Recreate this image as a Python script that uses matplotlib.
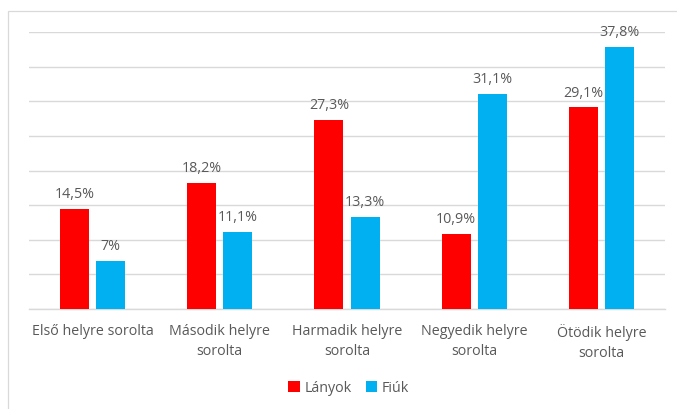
import matplotlib
matplotlib.use("Agg")
import matplotlib.pyplot as plt
from matplotlib.patches import Rectangle
import numpy as np

categories = ["Első helyre sorolta", "Második helyre\nsorolta", "Harmadik helyre\nsorolta",
              "Negyedik helyre\nsorolta", "Ötödik helyre\nsorolta"]
lanyok = [14.5, 18.2, 27.3, 10.9, 29.1]
fiuk = [7.0, 11.1, 13.3, 31.1, 37.8]
lanyok_labels = ["14,5%", "18,2%", "27,3%", "10,9%", "29,1%"]
fiuk_labels = ["7%", "11,1%", "13,3%", "31,1%", "37,8%"]
series_names = ["Lányok", "Fiúk"]

plt.rcParams['font.family'] = ['Open Sans', 'DejaVu Sans']
txt = '#595959'
grid = '#D9D9D9'
fs = 10.3

fig = plt.figure(figsize=(6.77, 4.09), dpi=100)
fig.patches.append(Rectangle((8/677, -0.1), 2, 1 - 11/409 + 0.1, transform=fig.transFigure,
                             fill=False, edgecolor='#D9D9D9', linewidth=0.9))
ax = fig.add_axes([29/677, 1 - 309/409, 636/677, 277/409])

x = np.arange(len(categories))
w = 0.228
off = 0.142
b1 = ax.bar(x - off, lanyok, w, color='#FF0000', label=series_names[0], zorder=3)
b2 = ax.bar(x + off, fiuk, w, color='#00B0F0', label=series_names[1], zorder=3)

for bars, labs in ((b1, lanyok_labels), (b2, fiuk_labels)):
    for r, l in zip(bars, labs):
        ax.annotate(l, (r.get_x() + r.get_width() / 2, r.get_height()),
                    xytext=(0, 5), textcoords='offset points', ha='center', va='bottom',
                    fontsize=fs, color=txt)

ax.set_xlim(-0.5, 4.5)
ax.set_ylim(0, 40)
ax.set_yticks(np.arange(0, 41, 5))
ax.set_yticklabels([])
ax.tick_params(axis='y', length=0)
ax.tick_params(axis='x', length=0, pad=11)
ax.set_xticks(x)
ax.set_xticklabels(categories, fontsize=fs, color=txt, linespacing=1.45)
ax.grid(axis='y', color=grid, linewidth=1, zorder=0)
for s in ['top', 'right', 'left']:
    ax.spines[s].set_visible(False)
ax.spines['bottom'].set_color(grid)
ax.spines['bottom'].set_linewidth(1)

leg = fig.legend(handles=[b1, b2], labels=series_names, loc='center', bbox_to_anchor=(0.515, 1 - 388/409),
                 ncol=2, frameon=False, fontsize=fs, handlelength=0.8, handleheight=0.8,
                 handletextpad=0.3, columnspacing=1.0)
for t in leg.get_texts():
    t.set_color(txt)

fig.savefig("out.png", dpi=100)
